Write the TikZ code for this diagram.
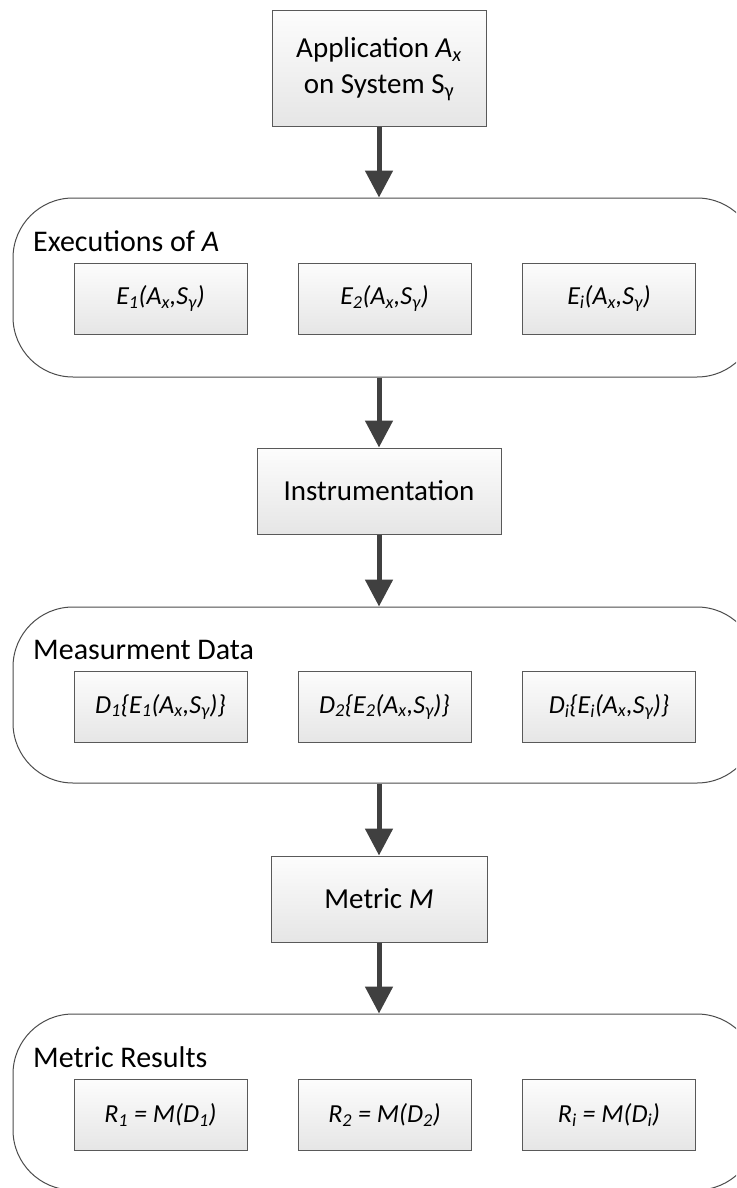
\documentclass[tikz,border=0pt]{standalone}
\usepackage{fontspec}
\setmainfont{Carlito}
\usetikzlibrary{arrows.meta}
\newcommand{\sbs}[1]{\textsubscript{#1}}
\tikzset{
  box/.style={draw=black!65, line width=1pt, top color=white!99!black, bottom color=white!90!black,
    inner sep=0pt, align=center, font=\fontsize{29}{36}\selectfont},
  inbox/.style={box, minimum width=173pt, minimum height=71pt, font=\fontsize{26}{32}\selectfont\itshape},
  cont/.style={draw=black!70, line width=1pt, fill=white, rounded corners=60pt,
    minimum width=744pt, inner sep=0pt},
  lbl/.style={anchor=base west, inner sep=0pt, font=\fontsize{30}{36}\selectfont},
  arr/.style={draw=black!75, line width=5pt, -{Triangle[width=27pt,length=27pt]}}
}
\begin{document}
\begin{tikzpicture}[x=1pt,y=-1pt]
\clip (0,0) rectangle (736,1188);
\fill[white] (0,0) rectangle (736,1188);
% top box
\node[box, minimum width=214pt, minimum height=116pt] (app) at (379,69)
  {Application \textit{A\sbs{x}}\\on System S\sbs{γ}};
% container 1
\node[cont, minimum height=179pt] (c1) at (385,287.5) {};
\node[lbl] (l1) at (33,251) {Executions of \textit{A}};
\node[inbox] (e1) at (160.5,298.5) {E\sbs{1}(A\sbs{x},S\sbs{γ})};
\node[inbox] (e2) at (384.5,298.5) {E\sbs{2}(A\sbs{x},S\sbs{γ})};
\node[inbox] (ei) at (609,298.5) {E\sbs{i}(A\sbs{x},S\sbs{γ})};
% instrumentation
\node[box, minimum width=244pt, minimum height=86pt] (ins) at (379,491) {Instrumentation};
% container 2
\node[cont, minimum height=176pt] (c2) at (385,695) {};
\node[lbl] (l2) at (33,659) {Measurment Data};
\node[inbox] (d1) at (160.5,707) {D\sbs{1}\{E\sbs{1}(A\sbs{x},S\sbs{γ})\}};
\node[inbox] (d2) at (384.5,707) {D\sbs{2}\{E\sbs{2}(A\sbs{x},S\sbs{γ})\}};
\node[inbox] (di) at (609,707) {D\sbs{i}\{E\sbs{i}(A\sbs{x},S\sbs{γ})\}};
% metric
\node[box, minimum width=216pt, minimum height=86pt] (met) at (379,899) {Metric \textit{M}};
% container 3
\node[cont, minimum height=176pt] (c3) at (385,1102) {};
\node[lbl] (l3) at (33,1067) {Metric Results};
\node[inbox] (r1) at (160.5,1115) {R\sbs{1} = M(D\sbs{1})};
\node[inbox] (r2) at (384.5,1115) {R\sbs{2} = M(D\sbs{2})};
\node[inbox] (ri) at (609,1115) {R\sbs{i} = M(D\sbs{i})};
% arrows
\draw[arr] (app.south) -- (app.south |- c1.north);
\draw[arr] (ins.north |- c1.south) -- (ins.north);
\draw[arr] (ins.south) -- (ins.south |- c2.north);
\draw[arr] (met.north |- c2.south) -- (met.north);
\draw[arr] (met.south) -- (met.south |- c3.north);
\end{tikzpicture}
\end{document}
